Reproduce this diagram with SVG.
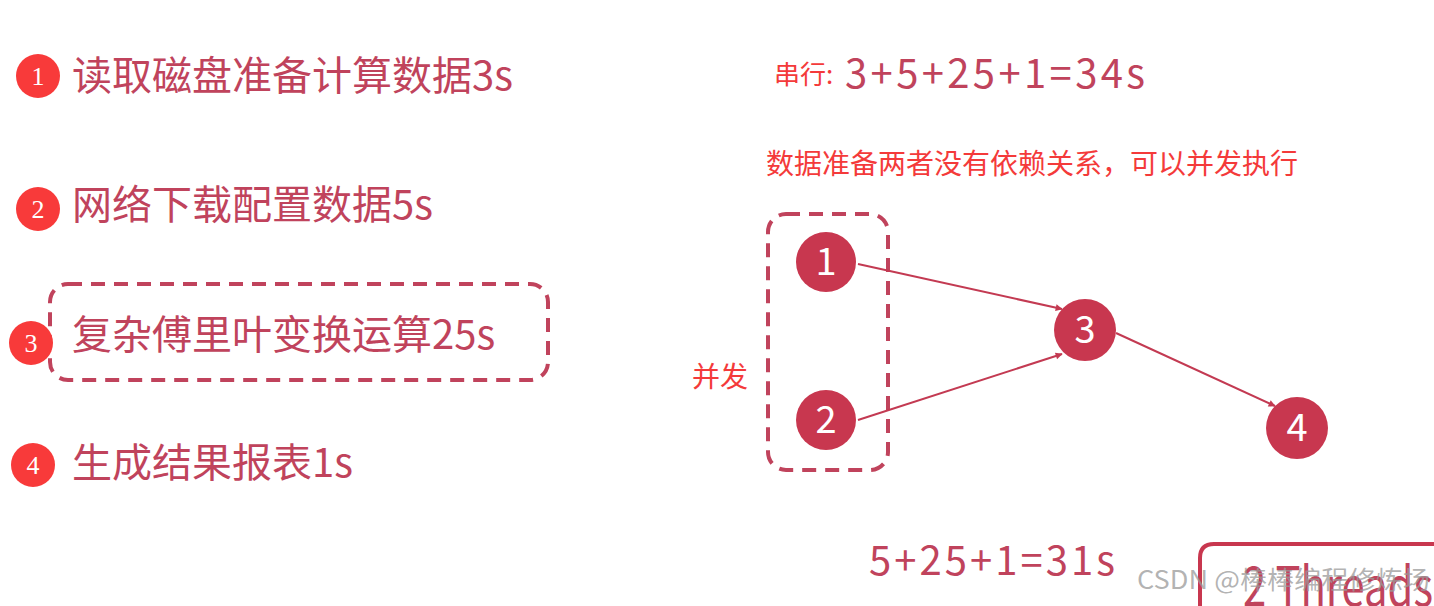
<svg xmlns="http://www.w3.org/2000/svg" width="1434" height="606" viewBox="0 0 1434 606">
<defs>
<marker id="ah" viewBox="0 0 10 10" refX="9" refY="5" markerWidth="5" markerHeight="5" orient="auto-start-reverse" markerUnits="userSpaceOnUse" style="overflow:visible">
<path d="M0,0 L10,5 L0,10 z" fill="#c33a52" transform="scale(1.4) translate(-2.6,-1.4)"/>
</marker>
<style>
.t{font-family:"Noto Sans CJK SC","Noto Sans",sans-serif;fill:#c0435c}
.r{font-family:"Noto Sans CJK SC","Noto Sans",sans-serif;fill:#f43a3a}
.bc{fill:#f83a3a}
.bn{font-family:"Liberation Serif",serif;fill:#fff;font-size:26px;text-anchor:middle}
.nc{fill:#c8374f}
.nn{font-family:"Noto Sans CJK SC","Noto Sans",sans-serif;fill:#fff;font-size:38px;text-anchor:middle}
.dash{fill:none;stroke:#c0435c;stroke-width:4;stroke-dasharray:14 9}
.edge{fill:none;stroke:#c33a52;stroke-width:2}
</style>
</defs>
<rect width="1434" height="606" fill="#fff"/>

<g id="step1">
<circle class="bc" cx="38" cy="76" r="22"/>
<text class="bn" x="38" y="85">1</text>
<text class="t" x="72" y="90" font-size="40">读取磁盘准备计算数据3s</text>
</g>
<g id="step2">
<circle class="bc" cx="38" cy="209" r="22"/>
<text class="bn" x="38" y="218">2</text>
<text class="t" x="72" y="219" font-size="40">网络下载配置数据5s</text>
</g>
<g id="step3">
<rect class="dash" x="50" y="284" width="498" height="96" rx="18"/>
<circle class="bc" cx="31" cy="343" r="22"/>
<text class="bn" x="31" y="352">3</text>
<text class="t" x="72" y="349" font-size="40">复杂傅里叶变换运算25s</text>
</g>
<g id="step4">
<circle class="bc" cx="33" cy="465" r="22"/>
<text class="bn" x="33" y="474">4</text>
<text class="t" x="72" y="477" font-size="40">生成结果报表1s</text>
</g>

<g id="serial">
<text class="r" x="774" y="84" font-size="26">串行:</text>
<text class="t" x="845" y="88" font-size="40" textLength="300" lengthAdjust="spacing">3+5+25+1=34s</text>
</g>
<g id="note">
<text class="r" x="766" y="174" font-size="28">数据准备两者没有依赖关系，可以并发执行</text>
</g>
<g id="parallel-group">
<rect class="dash" x="768" y="214" width="120" height="256" rx="18"/>
<text class="r" x="692" y="387" font-size="28">并发</text>
</g>

<g id="connectors">
<line class="edge" x1="858" y1="264" x2="1062" y2="309" marker-end="url(#ah)"/>
<line class="edge" x1="858" y1="420" x2="1062" y2="354" marker-end="url(#ah)"/>
<line class="edge" x1="1116" y1="333" x2="1275" y2="406" marker-end="url(#ah)"/>
</g>

<g id="n1"><circle class="nc" cx="826" cy="262" r="30"/><text class="nn" x="826" y="275">1</text></g>
<g id="n2"><circle class="nc" cx="826" cy="420" r="30"/><text class="nn" x="826" y="433">2</text></g>
<g id="n3"><circle class="nc" cx="1085" cy="330" r="31"/><text class="nn" x="1085" y="343">3</text></g>
<g id="n4"><circle class="nc" cx="1297" cy="428" r="31"/><text class="nn" x="1297" y="441">4</text></g>

<g id="parallel-total">
<text class="t" x="869" y="575" font-size="40" textLength="246" lengthAdjust="spacing">5+25+1=31s</text>
</g>
<g id="threads">
<path d="M1200,610 L1200,558 Q1200,544 1214,544 L1440,544" fill="none" stroke="#c8374f" stroke-width="4"/>
<text class="t" x="1243" y="606" font-size="54" textLength="190" lengthAdjust="spacingAndGlyphs">2 Threads</text>
</g>
<g id="watermark">
<text x="1137" y="589" font-size="25" textLength="293" lengthAdjust="spacingAndGlyphs" fill="#9a9a9a" fill-opacity="0.75" font-family="'Noto Sans CJK SC','Noto Sans',sans-serif">CSDN @棒棒编程修炼场</text>
</g>
</svg>
